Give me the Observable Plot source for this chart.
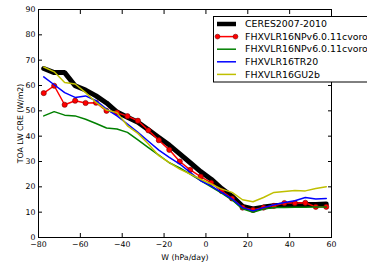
<!DOCTYPE html>
<html><head><meta charset="utf-8">
<script src="https://cdn.jsdelivr.net/npm/d3@7"></script>
<script src="https://cdn.jsdelivr.net/npm/@observablehq/plot@0.6"></script>
<style>
body{margin:0;overflow:hidden;background:#fff;font-family:"DejaVu Sans";}
#wrap{position:relative;width:367px;height:264px;overflow:hidden;}
#legend{position:absolute;left:213px;top:16px;}
</style>
</head><body><div id="wrap"></div>
<script>
const w = [-77.5,-72.5,-67.5,-62.5,-57.5,-52.5,-47.5,-42.5,-37.5,-32.5,-27.5,-22.5,-17.5,-12.5,-7.5,-2.5,2.5,7.5,12.5,17.5,22.5,27.5,32.5,37.5,42.5,47.5,52.5,57.5];
const ceres = [66.7,65.1,65.1,59.9,58.2,55.9,53.1,49.5,47.5,45.5,42.5,39.5,36.5,33.0,29.5,26.0,23.0,19.3,16.3,12.3,11.3,12.0,12.5,12.8,13.0,13.0,13.0,13.2];
const npv = [57.0,59.9,52.4,54.0,53.1,53.2,50.0,49.3,47.9,46.1,42.3,38.4,34.6,30.0,26.7,24.0,21.6,18.4,15.4,11.8,10.9,11.8,12.5,13.6,13.6,13.7,12.1,12.1];
const npv2 = [48.0,49.7,48.3,48.0,46.7,45.0,43.2,42.8,41.5,38.5,35.5,32.5,29.5,27.5,25.0,22.5,20.0,17.5,14.8,11.3,10.0,11.2,11.8,11.8,11.9,11.9,12.0,12.0];
const tr20 = [63.4,60.3,57.2,55.3,55.9,54.0,50.7,48.0,44.8,41.5,38.0,34.5,31.6,29.0,25.7,22.4,20.4,17.8,15.2,11.8,10.5,11.8,12.9,13.8,14.5,15.8,15.2,15.4];
const gu2b = [67.3,65.4,61.2,60.6,57.2,53.3,50.3,49.3,44.1,41.1,36.9,32.3,29.6,27.0,25.0,23.0,21.1,19.1,17.8,14.9,14.1,15.8,17.8,18.2,18.6,18.4,19.3,20.0];
const names = ["CERES2007-2010","FHXVLR16NPv6.0.11cvoro","FHXVLR16NPv6.0.11cvoro","FHXVLR16TR20","FHXVLR16GU2b"];
const colors = ["#000000","#ff0000","#008000","#0000ff","#bfbf00"];
const widths = [5,1.5,1.5,1.5,1.5];
const xTicks = [-80,-60,-40,-20,0,20,40,60];
const yTicks = [0,10,20,30,40,50,60,70,80,90];

const seriesVals = [ceres, npv, npv2, tr20, gu2b];
const rows = seriesVals.map((vals, i) => vals.map((v, j) => ({w: w[j], v, i})));

const marks = [];
seriesVals.forEach((vals, i) => {
  marks.push(Plot.line(rows[i], {x: "w", y: "v", stroke: colors[i], strokeWidth: widths[i], strokeLinejoin: "miter"}));
  if (i === 1) marks.push(Plot.dot(rows[i], {x: "w", y: "v", r: 2.6, fill: colors[i], stroke: "#700000", strokeWidth: 0.6}));
});

const chart = Plot.plot({
  width: 367, height: 264,
  marginLeft: 38, marginRight: 36, marginTop: 9, marginBottom: 27,
  style: {fontFamily: "DejaVu Sans", fontSize: "7.8px", background: "white", color: "black"},
  x: {domain: [-80, 60]},
  y: {domain: [0, 90]},
  marks: [
    ...marks,
    Plot.frame({stroke: "black", strokeWidth: 1}),
    Plot.axisX({ticks: xTicks, tickSize: 0, tickPadding: 4, label: "W (hPa/day)", labelAnchor: "center", labelArrow: "none", labelOffset: 22, fontSize: 7.8}),
    Plot.axisX({anchor: "bottom", ticks: xTicks, tickSize: -4, text: null, label: null}),
    Plot.axisX({anchor: "top", ticks: xTicks, tickSize: -4, text: null, label: null}),
    Plot.axisY({ticks: yTicks, tickSize: 0, tickPadding: 3, label: "TOA LW CRE (W/m2)", labelAnchor: "center", labelArrow: "none", labelOffset: 21, fontSize: 7.8}),
    Plot.axisY({anchor: "left", ticks: yTicks, tickSize: -4, text: null, label: null}),
    Plot.axisY({anchor: "right", ticks: yTicks, tickSize: -4, text: null, label: null})
  ]
});
const wrap = document.getElementById("wrap");
wrap.appendChild(chart);

// legend
const lg = d3.select(wrap).append("svg").attr("id", "legend").attr("width", 200).attr("height", 67);
lg.append("rect").attr("x", 0.5).attr("y", 0.5).attr("width", 198).attr("height", 65.5).attr("fill", "white").attr("stroke", "black").attr("stroke-width", 1);
names.forEach((n, i) => {
  const y = 8 + i * 12.6;
  lg.append("line").attr("x1", 4).attr("x2", 23).attr("y1", y).attr("y2", y).attr("stroke", colors[i]).attr("stroke-width", i === 0 ? 4.5 : 1.5);
  if (i === 1) {
    [4.5, 22.5].forEach(cx => lg.append("circle").attr("cx", cx).attr("cy", y).attr("r", 2.4).attr("fill", colors[i]).attr("stroke", "#700000").attr("stroke-width", 0.6));
  }
  lg.append("text").attr("x", 32).attr("y", y).attr("dy", "0.35em").attr("font-family", "DejaVu Sans").attr("font-size", 9.4).attr("fill", "black").text(n);
});
</script>
</body></html>
